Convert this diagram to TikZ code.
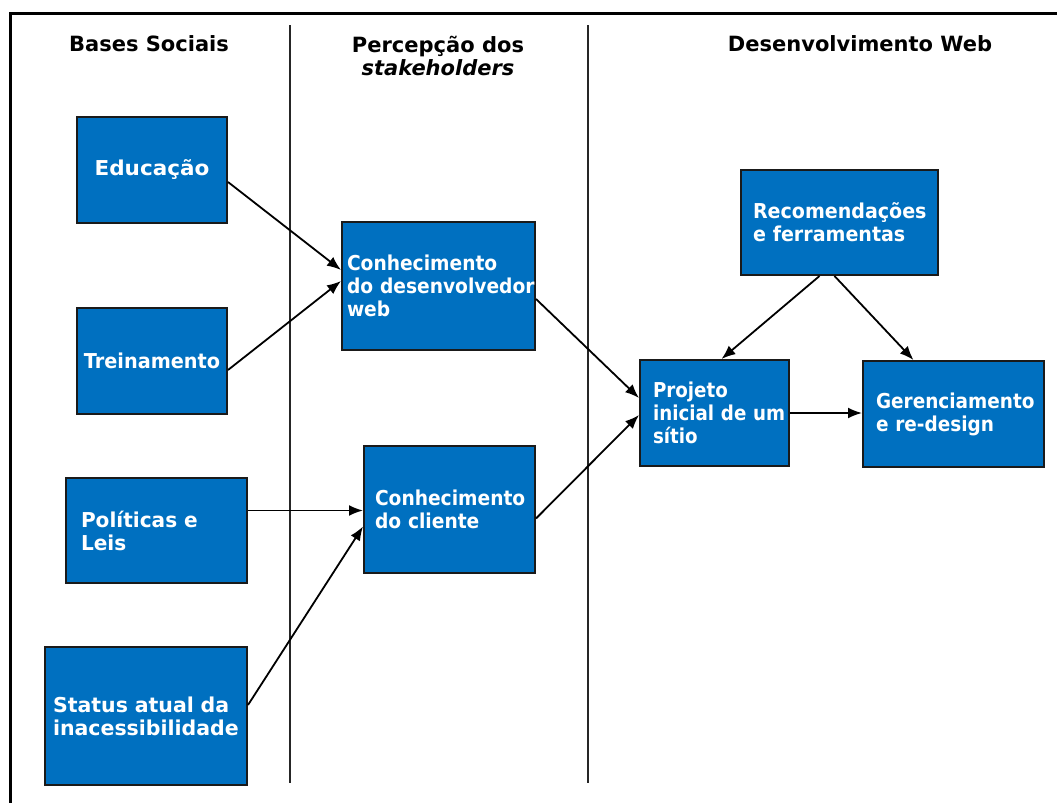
\documentclass[tikz,border=0pt]{standalone}
\usepackage{fontspec}
\setmainfont{DejaVu Sans}
\usetikzlibrary{arrows.meta,calc}
\definecolor{boxblue}{HTML}{0070C0}
\definecolor{boxedge}{HTML}{1A1A1A}
\hyphenpenalty=10000
\exhyphenpenalty=10000
\newcommand{\boxfont}[1]{\bfseries\fontsize{20.5}{23}\selectfont\addfontfeatures{FakeStretch=#1}}
\begin{document}
\begin{tikzpicture}[x=1pt,y=-1pt,
  fs/.style={font={\boxfont{#1}}},
  box/.style={draw=boxedge,line width=2pt,fill=boxblue,text=white,fs=1,inner ysep=0pt,anchor=center},
  cbox/.style n args={2}{box,align=center,minimum width=#1,minimum height=#2,inner xsep=0pt},
  lbox/.style n args={3}{box,align=left,text width=#1-2*#3,inner xsep=#3,minimum height=#2},
  heading/.style={font=\bfseries\fontsize{21}{23}\selectfont,align=center,text=black},
  link/.style={draw=black,line width=1.8pt,-{Latex[length=14pt,width=11pt]}},
  divider/.style={draw=black!85,line width=2.2pt}]
\useasboundingbox (0,0) rectangle (1057,803);
\fill[white] (0,0) rectangle (1057,803);
% outer frame (open to the right and bottom)
\draw[line width=3pt,black] (1057,13) -- (10,13) -- (10,803);
% column dividers
\draw[divider] (290,25) -- (290,783);
\draw[divider] (588,25) -- (588,783);
% column headings
\node[heading] (h1) at (149,44) {Bases Sociais};
\node[heading] (h2) at (438,56) {Percepção dos\\\textit{stakeholders}};
\node[heading] (h3) at (860,44) {Desenvolvimento Web};
% social bases
\node[cbox={150pt}{106pt},fs=1.05] (edu) at (152,170) {Educação};
\node[cbox={150pt}{106pt},fs=0.94] (tre) at (152,361) {Treinamento};
\node[lbox={181pt}{105pt}{15pt},fs=0.98] (pol) at (156.5,530.5) {Políticas~e\\Leis};
\node[lbox={202pt}{138pt}{8pt},fs=1] (sta) at (146,716) {Status~atual~da\\inacessibilidade};
% stakeholder perception
\node[lbox={193pt}{128pt}{5pt},fs=0.91] (cdw) at (438.5,286) {Conhecimento\\do~desenvolvedor\\web};
\node[lbox={171pt}{127pt}{11pt},fs=0.91] (cdc) at (449.5,509.5) {Conhecimento\\do~cliente};
% web development
\node[lbox={197pt}{105pt}{12pt},fs=0.93] (rec) at (839.5,222.5) {Recomendações\\e~ferramentas};
\node[lbox={149pt}{106pt}{13pt},fs=0.89] (pro) at (714.5,413) {Projeto\\inicial~de~um\\sítio};
\node[lbox={181pt}{106pt}{13pt},fs=0.90] (ger) at (953.5,414) {Gerenciamento\\e~re-design};
% connectors
\draw[link] ([yshift=-12pt]edu.east) -- ([yshift=16pt]cdw.west);
\draw[link] ([yshift=-9pt]tre.east) -- ([yshift=5pt]cdw.west);
\draw[link] ([yshift=20pt]pol.east) -- ([yshift=20pt]pol.east -| cdc.west);
\draw[link] ([yshift=11pt]sta.east) -- ([yshift=-17pt]cdc.west);
\draw[link] ([yshift=-13pt]cdw.east) -- ([yshift=15pt]pro.west);
\draw[link] ([yshift=-9pt]cdc.east) -- ([yshift=-2pt]pro.west);
\draw[link] ([xshift=-20pt]rec.south) -- ([xshift=7pt]pro.north);
\draw[link] ([xshift=-5pt]rec.south) -- ([xshift=-40pt]ger.north);
\draw[link] (pro.east) -- (pro.east -| ger.west);
\end{tikzpicture}
\end{document}
